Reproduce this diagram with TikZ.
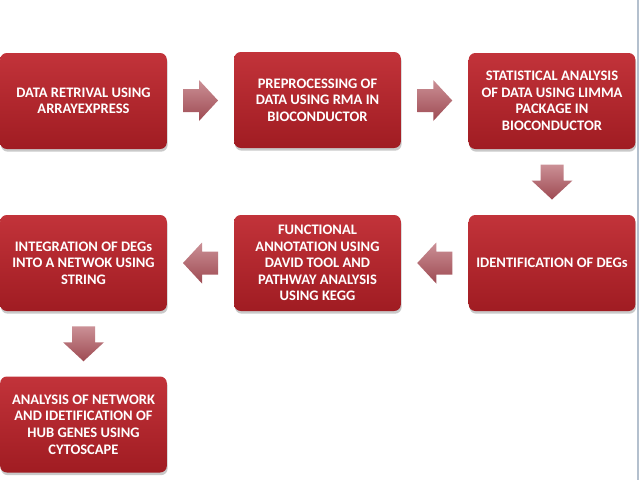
\documentclass[tikz,border=0pt]{standalone}
\usepackage{fontspec}
\setmainfont{Carlito}
\usetikzlibrary{calc,shadows}
\definecolor{boxtop}{HTML}{C2333A}
\definecolor{boxbot}{HTML}{A01C22}
\definecolor{arrtop}{HTML}{CB9096}
\definecolor{arrbot}{HTML}{9E4A52}
\definecolor{edgeline}{HTML}{B4C0CE}
\tikzset{
  stepbox/.style={rounded corners=5pt, top color=boxtop, bottom color=boxbot,
    minimum width=125pt, minimum height=72pt, inner sep=1pt,
    text=white, align=center, font=\fontsize{10.9}{12.4}\selectfont\bfseries,
    drop shadow={shadow xshift=0.6pt, shadow yshift=-2pt, opacity=0.35, fill=black!60}},
  blockarrow/.style={top color=arrtop, bottom color=arrbot, draw=none}
}
\newcommand{\blockarrowat}[2]{%
  \path[blockarrow, shift={#1}, rotate=#2]
    (-17.5,-11.5) -- (-1.5,-11.5) -- (-1.5,-20.5) -- (17.5,0) -- (-1.5,20.5) -- (-1.5,11.5) -- (-17.5,11.5) -- cycle;}
\begin{document}
\begin{tikzpicture}[x=0.75pt,y=-0.75pt]
\useasboundingbox[fill=white] (0,0) rectangle (640,480);
\draw[edgeline, line width=1.5pt] (638,0) -- (638,480);
\node[stepbox] (b1) at (83.5,101) {DATA RETRIVAL USING\\ARRAYEXPRESS};
\node[stepbox] (b2) at (317.5,100) {PREPROCESSING OF\\DATA USING RMA IN\\BIOCONDUCTOR};
\node[stepbox] (b3) at (552,101) {STATISTICAL ANALYSIS\\OF DATA USING LIMMA\\PACKAGE IN\\BIOCONDUCTOR};
\node[stepbox] (b4) at (552,263) {IDENTIFICATION OF DEGs};
\node[stepbox] (b5) at (317.5,263) {FUNCTIONAL\\ANNOTATION USING\\DAVID TOOL AND\\PATHWAY ANALYSIS\\USING KEGG};
\node[stepbox] (b6) at (83.5,263) {INTEGRATION OF DEGs\\INTO A NETWOK USING\\STRING};
\node[stepbox] (b7) at (83.5,424.5) {ANALYSIS OF NETWORK\\AND IDETIFICATION OF\\HUB GENES USING\\CYTOSCAPE};
\coordinate (a12) at ($(b1.east)!0.5!(b2.west)$);
\coordinate (a23) at ($(b2.east)!0.5!(b3.west)$);
\coordinate (a34) at ($(b3.south)!0.5!(b4.north)$);
\coordinate (a45) at ($(b4.west)!0.5!(b5.east)$);
\coordinate (a56) at ($(b5.west)!0.5!(b6.east)$);
\coordinate (a67) at ($(b6.south)!0.5!(b7.north)$);
\blockarrowat{(a12)}{0}
\blockarrowat{(a23)}{0}
\blockarrowat{(a34)}{-90}
\blockarrowat{(a45)}{180}
\blockarrowat{(a56)}{180}
\blockarrowat{(a67)}{-90}
\end{tikzpicture}
\end{document}
